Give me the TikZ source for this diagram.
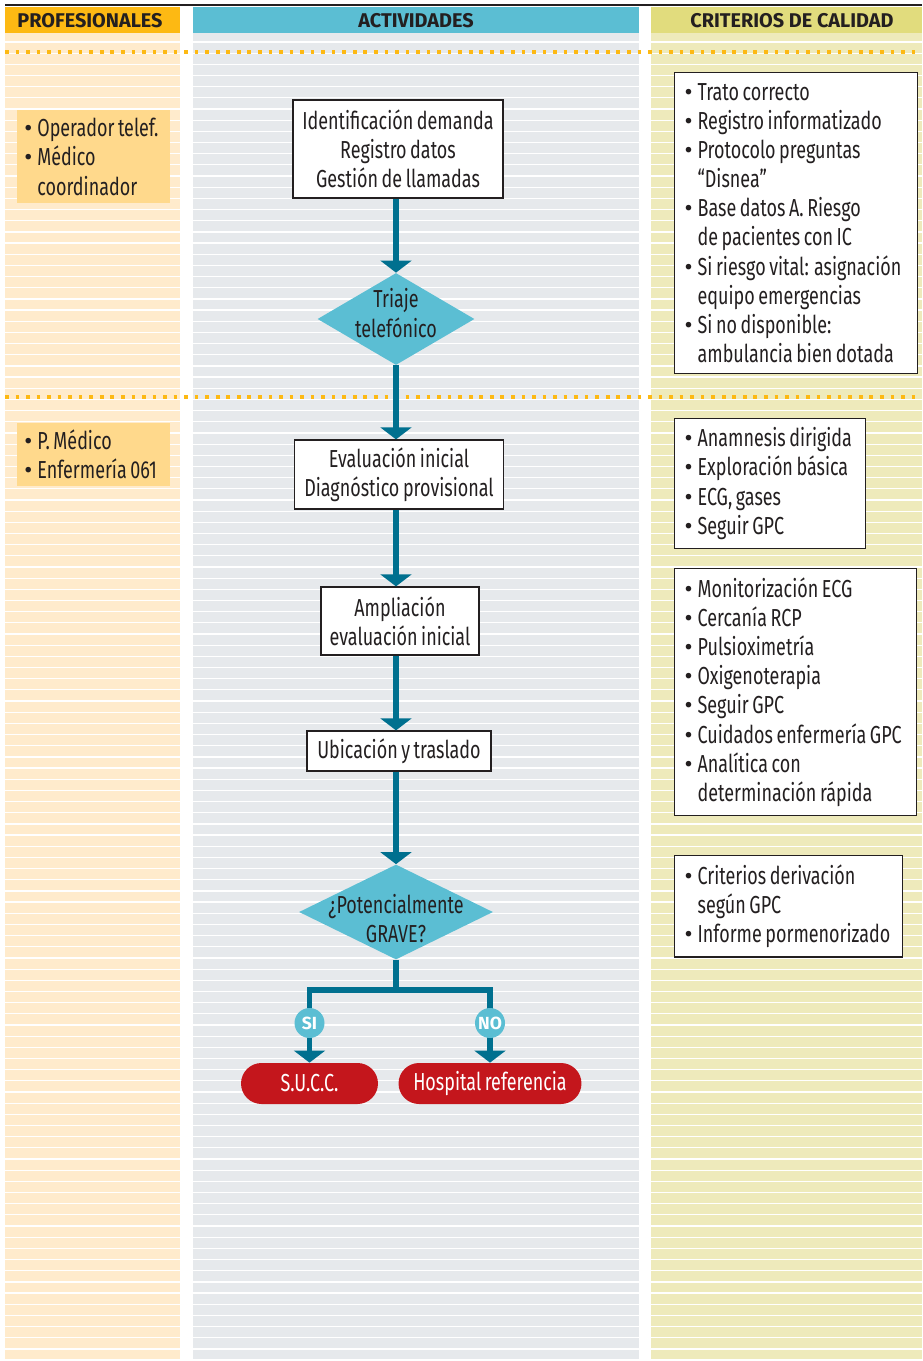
\documentclass[tikz,border=0pt]{standalone}
\usepackage{fontspec}
\setmainfont[FakeStretch=0.73, WordSpace=0.75]{Fira Sans}
\newfontfamily\headfont{Fira Sans}
\usetikzlibrary{arrows.meta,shapes.geometric}

\definecolor{profhead}{HTML}{FDB913}
\definecolor{proffill}{HTML}{FFEBCC}
\definecolor{profbox}{HTML}{FFD98C}
\definecolor{acthead}{HTML}{5BBED3}
\definecolor{actfill}{HTML}{E6E9EC}
\definecolor{crithead}{HTML}{E1DC7D}
\definecolor{critfill}{HTML}{EEEABB}
\definecolor{flowteal}{HTML}{00708F}
\definecolor{termred}{HTML}{C4161C}
\definecolor{ink}{HTML}{231F20}

\newcommand\bl{\makebox[7.4pt][l]{\headfont\textbullet}}
\newcommand\ind{\hspace*{7.4pt}}
\newcommand\dtext[2]{\makebox[0pt]{\smash{\raisebox{#1}{\begin{tabular}{@{}c@{}}#2\end{tabular}}}}}

\tikzset{
	txt/.style={font=\fontsize{14}{16.6}\selectfont, text=ink},
	headtxt/.style={font=\headfont\fontsize{11.3}{14}\selectfont\bfseries, text=ink},
	actbox/.style={txt, draw=ink, fill=white, line width=0.7pt, align=center, inner sep=0pt},
	critbox/.style={txt, draw=ink, fill=white, line width=0.7pt, align=flush left, inner xsep=0.2cm, inner ysep=0.21cm, anchor=north west},
	profnote/.style={txt, fill=profbox, align=flush left, inner xsep=0.14cm, text width=2.78cm, anchor=north west},
	triage/.style={txt, diamond, fill=acthead, inner sep=0pt},
	terminal/.style={txt, text=white, fill=termred, rounded corners=0.41cm, minimum height=0.82cm, inner sep=0pt},
	answer/.style={circle, fill=acthead, text=white, minimum size=0.6cm, inner sep=0pt, font=\headfont\fontsize{10}{12}\selectfont\bfseries},
	flow/.style={draw=flowteal, line width=3.2pt, -{Triangle[width=17.4pt,length=6.8pt]}},
	flowline/.style={draw=flowteal, line width=3.2pt},
	dots/.style={draw=profhead, line width=2.1pt, dash pattern=on 2.1pt off 3.9pt}
}

\begin{document}
\hyphenpenalty=10000
\begin{tikzpicture}[x=0.02cm, y=-0.02cm]
			%%%%% START %%%%%
			\useasboundingbox (0,0) rectangle (922,1361);
			
			% columns
			\fill[proffill] (5,33) rectangle (180,1361);
			\fill[actfill] (193,33) rectangle (639,1361);
			\fill[critfill] (651,33) rectangle (922,1361);
			\foreach \k in {0,...,118}
				\draw[white, line width=0.7pt] (5,42+11.17*\k) -- (922,42+11.17*\k);
			\fill[white] (180,33) rectangle (193,1361);
			\fill[white] (639,33) rectangle (651,1361);
			
			% headers
			\fill[profhead] (5,7) rectangle (180,33);
			\fill[acthead] (193,7) rectangle (639,33);
			\fill[crithead] (651,7) rectangle (922,33);
			\draw[ink, line width=1.5pt] (5,5) -- (922,5);
			\node[headtxt] (hprof) at (90,21) {PROFESIONALES};
			\node[headtxt] (hact) at (416,21) {ACTIVIDADES};
			\node[headtxt] (hcrit) at (792,21) {CRITERIOS DE CALIDAD};
			
			\draw[dots] (5,51.7) -- (922,51.7);
			\draw[dots] (5,396.7) -- (922,396.7);
			
			% profesionales
			\node[profnote, inner ysep=0.16cm] (prof1) at (17,110) {\bl Operador telef.\\ \bl Médico\\ \ind coordinador};
			\node[profnote, inner ysep=0.13cm] (prof2) at (17,423) {\bl P. Médico\\ \bl Enfermería 061};
			
			% actividades
			\node[actbox, minimum width=4.2cm, minimum height=1.96cm] (demanda) at (398,149) {Identificación demanda\\ Registro datos\\ Gestión de llamadas};
			\node[triage, minimum width=3.14cm, minimum height=1.84cm] (triaje) at (396,319) {\dtext{-2.3pt}{Triaje\\ telefónico}};
			\node[actbox, minimum width=4.18cm, minimum height=1.38cm] (evalua) at (399,474.5) {Evaluación inicial\\ Diagnóstico provisional};
			\node[actbox, minimum width=3.16cm, minimum height=1.36cm] (amplia) at (400,621) {Ampliación\\ evaluación inicial};
			\node[actbox, minimum width=3.68cm, minimum height=0.8cm] (ubica) at (399,751) {Ubicación y traslado};
			\node[triage, minimum width=3.88cm, minimum height=1.9cm] (grave) at (396,912) {\dtext{-9.6pt}{¿Potencialmente\\ GRAVE?}};
			\node[terminal, minimum width=2.74cm] (succ) at (309.5,1083.5) {S.U.C.C.};
			\node[terminal, minimum width=3.66cm] (hosp) at (490,1083.5) {Hospital referencia};
			\coordinate (split) at (396,990);
			
			\draw[flow] (demanda.south -| triaje.north) -- (triaje.north);
			\draw[flow] (triaje.south) -- (evalua.north -| triaje.south);
			\draw[flow] (evalua.south -| triaje.south) -- (amplia.north -| triaje.south);
			\draw[flow] (amplia.south -| triaje.south) -- (ubica.north -| triaje.south);
			\draw[flow] (ubica.south -| triaje.south) -- (grave.north);
			\draw[flowline] (grave.south) -- (split);
			\draw[flow] (split) -| (succ.north);
			\draw[flow] (split) -| (hosp.north);
			\node[answer] (si) at (succ.north |- 0,1023) {SI};
			\node[answer] (no) at (hosp.north |- 0,1023) {NO};
			
			% criterios de calidad
			\node[critbox, text width=4.46cm] (crit1) at (674,72) {\bl Trato correcto\\ \bl Registro informatizado\\ \bl Protocolo preguntas\\ \ind “Disnea”\\ \bl Base datos A. Riesgo\\ \ind de pacientes con IC\\ \bl Si riesgo vital: asignación\\ \ind equipo emergencias\\ \bl Si no disponible:\\ \ind ambulancia bien dotada};
			\node[critbox, text width=3.42cm, inner ysep=0.18cm] (crit2) at (674,418) {\bl Anamnesis dirigida\\ \bl Exploración básica\\ \bl ECG, gases\\ \bl Seguir GPC};
			\node[critbox, text width=4.44cm, inner ysep=0.18cm] (crit3) at (674,568) {\bl Monitorización ECG\\ \bl Cercanía RCP\\ \bl Pulsioximetría\\ \bl Oxigenoterapia\\ \bl Seguir GPC\\ \bl Cuidados enfermería GPC\\ \bl Analítica con\\ \ind determinación rápida};
			\node[critbox, text width=4.16cm, inner ysep=0.18cm] (crit4) at (674,855) {\bl Criterios derivación\\ \ind según GPC\\ \bl Informe pormenorizado};
			
			%%%%% END %%%%%
\end{tikzpicture}
\end{document}
